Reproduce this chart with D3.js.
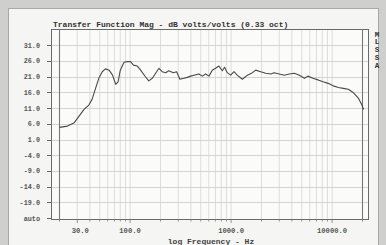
<!DOCTYPE html>
<html><head><meta charset="utf-8">
<script src="https://cdn.jsdelivr.net/npm/d3@7"></script>
<style>html,body{margin:0;padding:0;background:#cfcfcd;}svg{display:block;}</style>
</head><body>
<script>
const freq = [20,24,28,31,35,39,42,45.5,49,53,57,62,67,72,76,80,87,94,101,108,118,127,142,153,166,179,193,208,225,242,268,289,311,341,368,397,428,480,518,559,604,651,702,758,818,862,917,990,1067,1151,1292,1452,1624,1752,1963,2203,2474,2670,2997,3355,3771,4232,4750,5331,5760,6468,7259,8146,9144,10263,11520,12930,14500,16290,18290,19740,20500];
const dB = [4.9,5.3,6.4,8.3,10.6,12,13.8,17.3,20.5,22.6,23.5,23.1,21.5,18.6,19.4,23.1,25.6,25.8,25.8,24.7,24.4,23.1,21,19.7,20.5,22.1,23.7,22.6,22.3,22.9,22.3,22.6,20.2,20.5,20.8,21.2,21.5,21.9,21.2,21.9,21.2,23.1,23.7,24.4,22.9,24,22.3,21.5,22.6,21.5,20.2,21.5,22.3,23.1,22.6,22.1,21.9,22.3,21.9,21.5,21.9,22.1,21.5,20.5,21.2,20.5,20,19.4,18.9,18.1,17.6,17.3,17,15.9,14.1,12,10.6];
const yTicks = [31,26,21,16,11,6,1,-4,-9,-14,-19,-24];
const yTickLabels = ["31.0","26.0","21.0","16.0","11.0","6.0","1.0","-4.0","-9.0","-14.0","-19.0","auto"];
const xTicks = [30,100,1000,10000];
const xTickLabels = ["30.0","100.0","1000.0","10000.0"];
const title = "Transfer Function Mag - dB volts/volts (0.33 oct)";
const xTitle = "log Frequency - Hz";
const sideLetters = ["M","L","S","S","A"];

const W=386,H=245;
const svg=d3.select("body").append("svg").attr("width",W).attr("height",H);
svg.append("rect").attr("x",8.5).attr("y",8.5).attr("width",370).attr("height",240).attr("fill","#f5f5f3").attr("stroke","#a8a8a8");

const frame={l:51,r:368,t:29,b:219};
const x=d3.scaleLog().domain([20,20000]).range([59.5,362.5]);
const y=d3.scaleLinear().domain([-24,36]).range([218.2,29.6]);
const mono="'Liberation Mono','DejaVu Sans Mono',monospace";

svg.append("rect").attr("x",frame.l).attr("y",frame.t).attr("width",frame.r-frame.l).attr("height",frame.b-frame.t).attr("fill","#fbfbfa");

const minor=[];
for(let d=10; d<=10000; d*=10){for(let k=1;k<10;k++){const f=d*k; if(f>20&&f<20000) minor.push(f);}}
svg.append("g").selectAll("line").data(minor).join("line")
 .attr("x1",d=>x(d)).attr("x2",d=>x(d)).attr("y1",frame.t).attr("y2",frame.b)
 .attr("stroke","#d6d6d6").attr("stroke-width",0.8);
svg.append("g").selectAll("line").data(yTicks.slice(0,-1)).join("line")
 .attr("x1",frame.l).attr("x2",frame.r).attr("y1",d=>Math.round(y(d))+0.5).attr("y2",d=>Math.round(y(d))+0.5)
 .attr("stroke","#cfcfcf").attr("stroke-width",0.9);

svg.append("rect").attr("x",frame.l+0.5).attr("y",frame.t+0.5).attr("width",frame.r-frame.l).attr("height",frame.b-frame.t).attr("fill","none").attr("stroke","#6a6a6a").attr("stroke-width",1);
svg.append("g").selectAll("line").data([20,20000]).join("line")
 .attr("x1",d=>x(d)).attr("x2",d=>x(d)).attr("y1",frame.t).attr("y2",frame.b)
 .attr("stroke","#777").attr("stroke-width",1.1);

svg.append("g").selectAll("line").data(yTicks).join("line")
 .attr("x1",frame.l-4).attr("x2",frame.l).attr("y1",d=>Math.round(y(d))+0.5).attr("y2",d=>Math.round(y(d))+0.5)
 .attr("stroke","#666");
svg.append("g").selectAll("text").data(yTicks).join("text")
 .attr("x",40).attr("y",d=>y(d)).attr("dy","0.35em").attr("text-anchor","end")
 .attr("font-family",mono).attr("font-size",6.8).attr("font-weight","bold").attr("fill","#555")
 .text((d,i)=>yTickLabels[i]);

const allX=[20].concat(minor).concat([20000]);
svg.append("g").selectAll("line").data(allX).join("line")
 .attr("x1",d=>x(d)).attr("x2",d=>x(d)).attr("y1",frame.b).attr("y2",d=>xTicks.includes(d)?frame.b+4:frame.b+2.5)
 .attr("stroke","#777").attr("stroke-width",0.8);
svg.append("g").selectAll("text").data(xTicks).join("text")
 .attr("x",(d,i)=>x(d)+(i===0?3:0)).attr("y",230).attr("dy","0.35em").attr("text-anchor","middle")
 .attr("font-family",mono).attr("font-size",7.2).attr("font-weight","bold").attr("fill","#555")
 .text((d,i)=>xTickLabels[i]);

const line=d3.line().x((d,i)=>x(freq[i])).y(d=>y(d));
svg.append("path").datum(dB).attr("d",line).attr("fill","none").attr("stroke","#4a4a4a").attr("stroke-width",1.1).attr("stroke-linejoin","round");

svg.append("text").attr("x",53).attr("y",26.5).attr("font-family",mono).attr("font-size",8).attr("font-weight","bold").attr("fill","#333").text(title);
svg.append("text").attr("x",211).attr("y",241).attr("dy","0.35em").attr("text-anchor","middle").attr("font-family",mono).attr("font-size",8).attr("font-weight","bold").attr("fill","#444").text(xTitle);
svg.append("g").selectAll("text").data(sideLetters).join("text")
 .attr("x",377).attr("y",(d,i)=>34+i*7.8).attr("dy","0.35em").attr("text-anchor","middle")
 .attr("font-family",mono).attr("font-size",7.5).attr("font-weight","bold").attr("fill","#333").text(d=>d);
</script>
</body></html>
